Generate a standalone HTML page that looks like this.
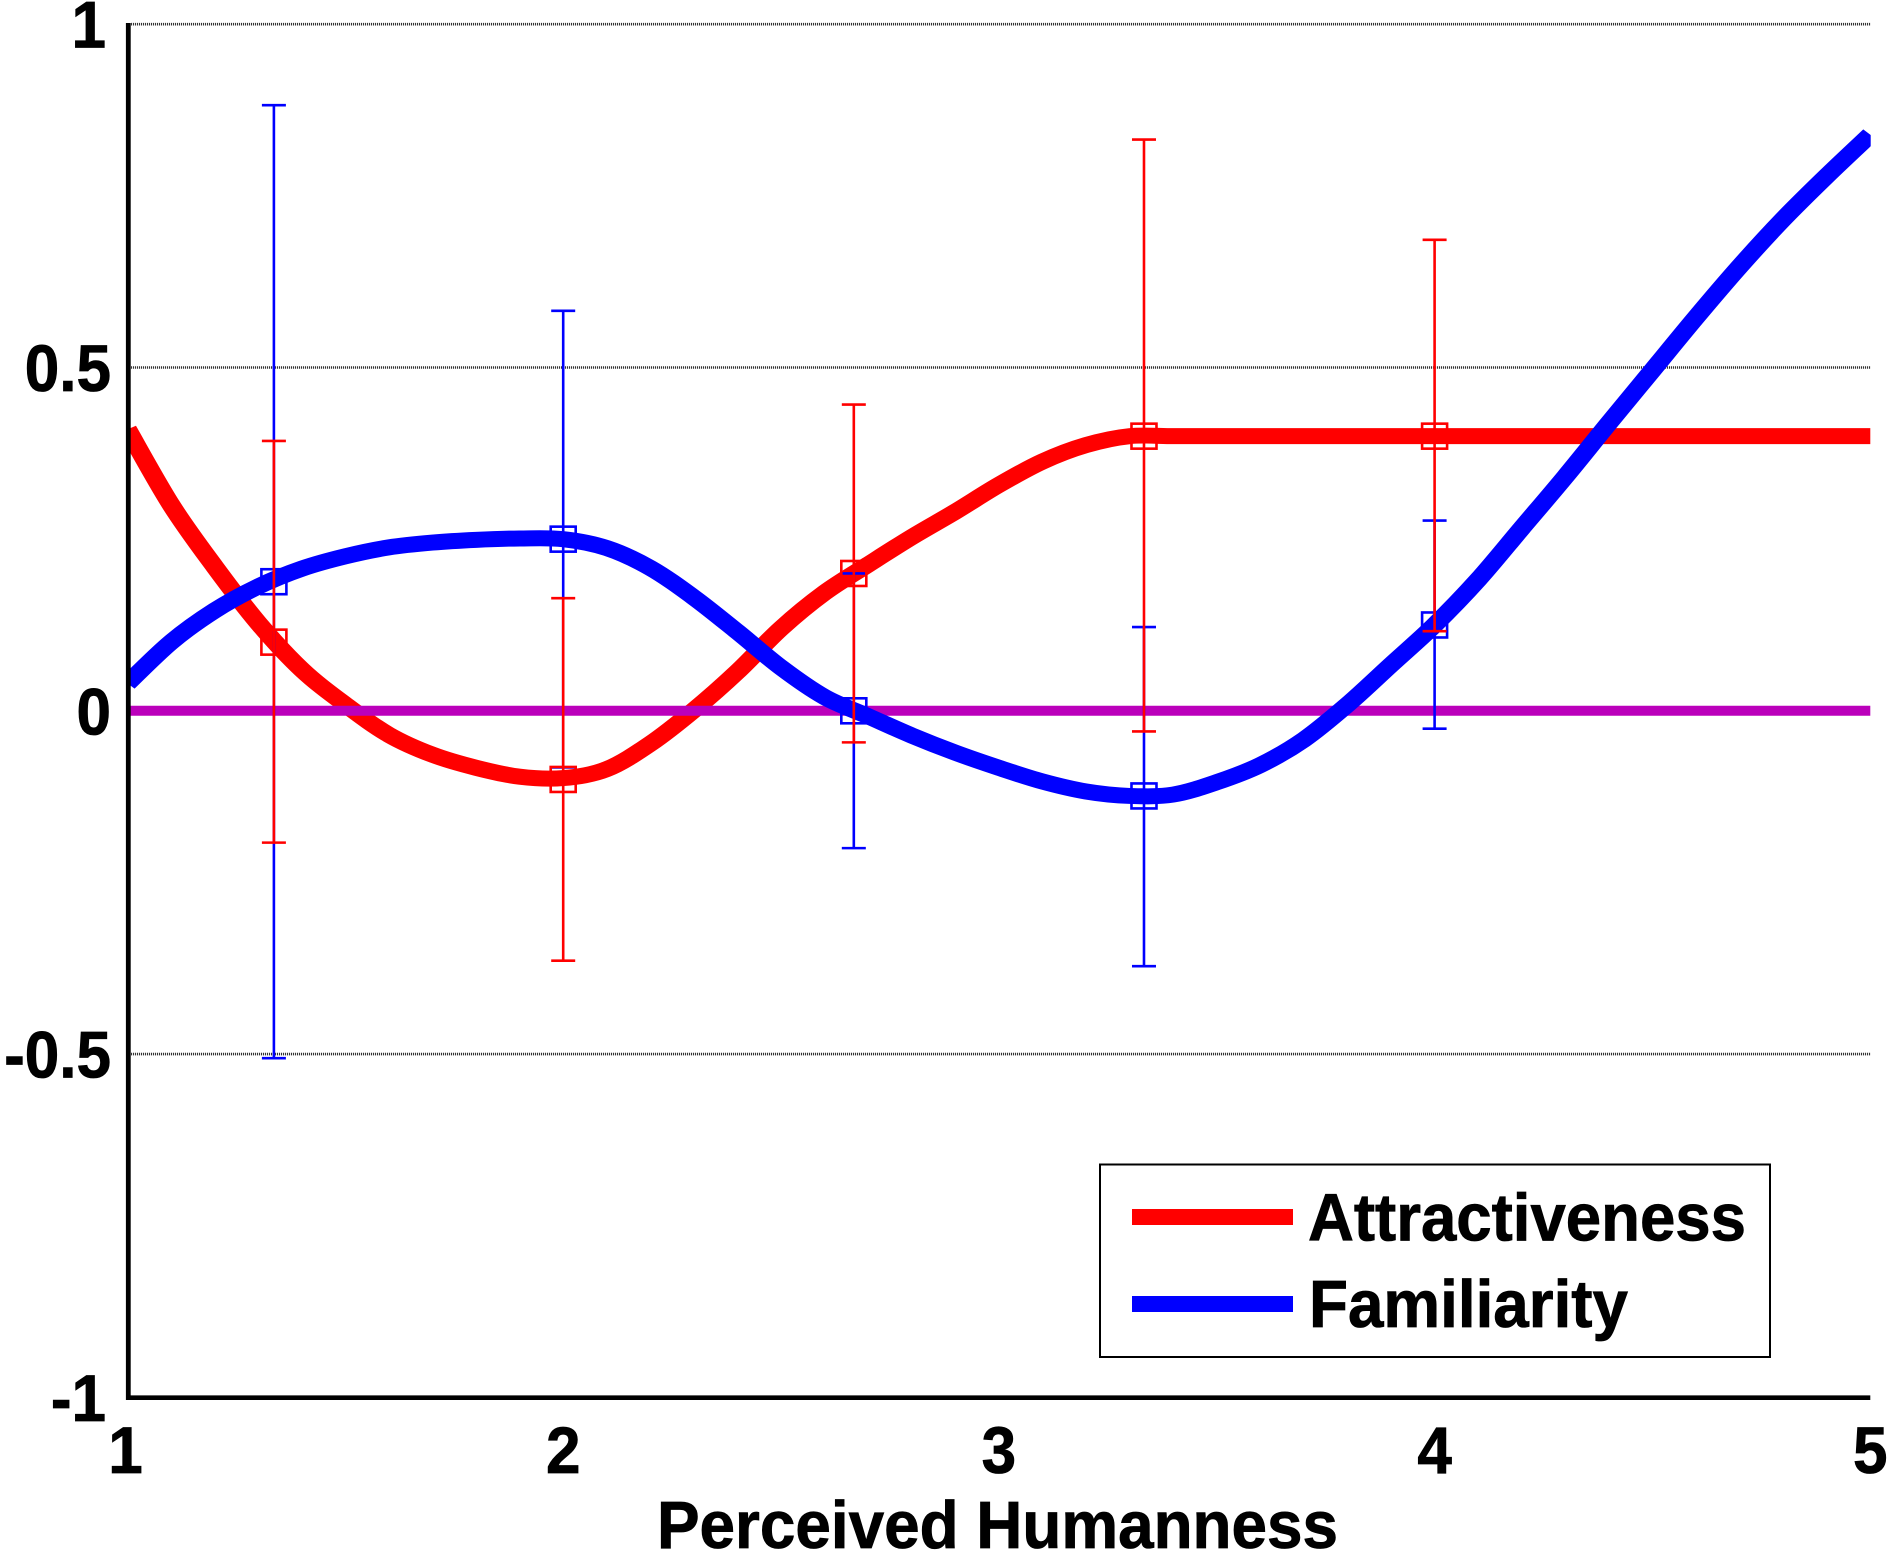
<!DOCTYPE html>
<html lang="en">
<head>
<meta charset="utf-8">
<title>Perceived Humanness chart</title>
<style>
html,body{margin:0;padding:0;background:#fff;width:1890px;height:1552px;overflow:hidden}
svg{display:block}
text{font-family:"Liberation Sans",Arial,sans-serif;font-weight:bold;fill:#000;stroke:#000;stroke-width:0.8px}
</style>
</head>
<body>
<svg id="chart" xmlns="http://www.w3.org/2000/svg" width="1890" height="1552" viewBox="0 0 1890 1552">
  <defs><clipPath id="plot-clip"><rect x="128" y="0" width="1742.7" height="1400"/></clipPath></defs>
  <g id="grid"></g>
  <g id="curves" clip-path="url(#plot-clip)"></g>
  <g id="errors"></g>
  <g id="axes"></g>
  <g>
    <rect x="1100" y="1164.5" width="670" height="192.5" fill="#fff" stroke="#000" stroke-width="2"/>
    <rect x="1132" y="1209" width="161" height="16" fill="#ff0000"/>
    <text x="1308" y="1240.5" font-size="67" textLength="438" lengthAdjust="spacingAndGlyphs">Attractiveness</text>
    <rect x="1132" y="1296" width="161" height="16" fill="#0000ff"/>
    <text x="1309" y="1327" font-size="67" textLength="319" lengthAdjust="spacingAndGlyphs">Familiarity</text>
  </g>
  <text x="657" y="1548" font-size="66.5" textLength="681" lengthAdjust="spacingAndGlyphs">Perceived Humanness</text>
</svg>
<script>
// ---- chart data ----
const humanness = [1.0,1.1,1.2,1.3,1.4,1.5,1.6,1.7,1.8,1.9,2.0,2.1,2.2,2.3,2.4,2.5,2.6,2.7,2.8,2.9,3.0,3.1,3.2,3.3,3.4,3.5,3.6,3.7,3.8,3.9,4.0,4.1,4.2,4.3,4.4,4.5,4.6,4.7,4.8,4.9,5.0];
const attractiveness = [0.41,0.30,0.21,0.128,0.06,0.009,-0.035,-0.064,-0.083,-0.096,-0.098,-0.085,-0.048,0.001,0.057,0.12,0.172,0.213,0.253,0.29,0.329,0.363,0.387,0.40,0.40,0.40,0.40,0.40,0.40,0.40,0.40,0.40,0.40,0.40,0.40,0.40,0.40,0.40,0.40,0.40,0.40];
const familiarity = [0.04,0.10,0.146,0.181,0.207,0.225,0.238,0.245,0.249,0.251,0.25,0.237,0.208,0.165,0.115,0.063,0.02,-0.008,-0.036,-0.061,-0.083,-0.103,-0.1175,-0.124,-0.122,-0.104,-0.079,-0.042,0.009,0.067,0.125,0.191,0.266,0.341,0.419,0.496,0.573,0.647,0.716,0.779,0.839];
const baselineX = [1, 5];
const baselineY = [0, 0];
const errorX = [1.336, 2, 2.667, 3.333, 4];
const attractMean = [0.10, -0.10, 0.20, 0.40, 0.40];
const attractHigh = [0.393, 0.164, 0.446, 0.832, 0.686];
const attractLow = [-0.192, -0.364, -0.046, -0.030, 0.116];
const familiarMean = [0.188, 0.25, 0.0, -0.124, 0.125];
const familiarHigh = [0.882, 0.5825, 0.20, 0.122, 0.277];
const familiarLow = [-0.506, -0.0825, -0.20, -0.372, -0.026];
const xTicks = [1, 2, 3, 4, 5];
const yTicks = [1, 0.5, 0, -0.5, -1];
const gridValues = [1, 0.5, -0.5];

// ---- axis functions ----
function xScale(h){ return 127.5 + 435.7 * (h - 1); }
function yScale(v){ return 710.8 - 686.6 * v; }

const NS = 'http://www.w3.org/2000/svg';
function make(tag, parent, attrs){
  const el = document.createElementNS(NS, tag);
  for (const k in attrs) el.setAttribute(k, attrs[k]);
  parent.appendChild(el);
  return el;
}
const grid = document.getElementById('grid');
const curves = document.getElementById('curves');
const errors = document.getElementById('errors');
const axes = document.getElementById('axes');

// gridlines
gridValues.forEach(function(v){
  const el = make('line', grid, {x1:131, x2:xScale(5), y1:yScale(v), y2:yScale(v), stroke:'#333', 'stroke-width':2.6, 'stroke-dasharray':'1.1 0.9'});
  
  
});

// curves: smoothed through the data; pen is slightly wider horizontally, as in the source image
const penStretch = 1.18;
function smoothPath(xs, ys){
  const pts = xs.map(function(x, i){ return [xScale(x) / penStretch, yScale(ys[i])]; });
  let d = 'M' + pts[0][0].toFixed(2) + ' ' + pts[0][1].toFixed(2);
  for (let i = 0; i < pts.length - 1; i++) {
    const p0 = pts[Math.max(i - 1, 0)], p1 = pts[i], p2 = pts[i + 1], p3 = pts[Math.min(i + 2, pts.length - 1)];
    const c1x = p1[0] + (p2[0] - p0[0]) / 6, c1y = p1[1] + (p2[1] - p0[1]) / 6;
    const c2x = p2[0] - (p3[0] - p1[0]) / 6, c2y = p2[1] - (p3[1] - p1[1]) / 6;
    d += ' C' + c1x.toFixed(2) + ' ' + c1y.toFixed(2) + ' ' + c2x.toFixed(2) + ' ' + c2y.toFixed(2) + ' ' + p2[0].toFixed(2) + ' ' + p2[1].toFixed(2);
  }
  return d;
}
const stretch = 'scale(' + penStretch + ' 1)';
const redCurve = make('path', curves, {d:smoothPath(humanness, attractiveness), transform:stretch, fill:'none', stroke:'#ff0000', 'stroke-width':16, 'stroke-linejoin':'round'});


const zeroLine = make('line', curves, {x1:xScale(baselineX[0]), x2:xScale(baselineX[1]), y1:yScale(baselineY[0]), y2:yScale(baselineY[1]), stroke:'#bb00bb', 'stroke-width':10});


const blueCurve = make('path', curves, {d:smoothPath(humanness, familiarity), transform:stretch, fill:'none', stroke:'#0000ff', 'stroke-width':16, 'stroke-linejoin':'round'});



// error bars
function drawErrors(means, highs, lows, color, name){
  errorX.forEach(function(h, i){
    const g = make('g', errors, {stroke:color, 'stroke-width':2.6, fill:'none'});
    
    
    const px = xScale(h), hi = yScale(highs[i]), lo = yScale(lows[i]), mid = yScale(means[i]);
    make('line', g, {x1:px, x2:px, y1:hi, y2:lo});
    make('line', g, {x1:px - 12, x2:px + 12, y1:hi, y2:hi});
    make('line', g, {x1:px - 12, x2:px + 12, y1:lo, y2:lo});
    make('rect', g, {x:px - 12.5, y:mid - 12.5, width:25, height:25});
  });
}
drawErrors(familiarMean, familiarHigh, familiarLow, '#0000ff', 'familiarity');
drawErrors(attractMean, attractHigh, attractLow, '#ff0000', 'attractiveness');

// axes
const yAxis = make('line', axes, {x1:128.3, x2:128.3, y1:23, y2:1400, stroke:'#000', 'stroke-width':4.8});


const xAxis = make('line', axes, {x1:126, x2:xScale(5), y1:1397.7, y2:1397.7, stroke:'#000', 'stroke-width':4.6});



yTicks.forEach(function(v){
  const right = Math.abs(v) === 1 ? 106 : 111;
  const t = make('text', axes, {transform:'translate(' + right + ' ' + (yScale(v) + 23.5) + ') scale(0.94 1)', 'font-size':66, 'text-anchor':'end'});
  
  
  t.textContent = String(v);
});
xTicks.forEach(function(h){
  const nudge = h === 1 ? -2 : 0;
  const t = make('text', axes, {transform:'translate(' + (xScale(h) + nudge) + ' 1473) scale(0.94 1)', 'font-size':66, 'text-anchor':'middle'});
  
  
  t.textContent = String(h);
});
</script>
</body>
</html>
